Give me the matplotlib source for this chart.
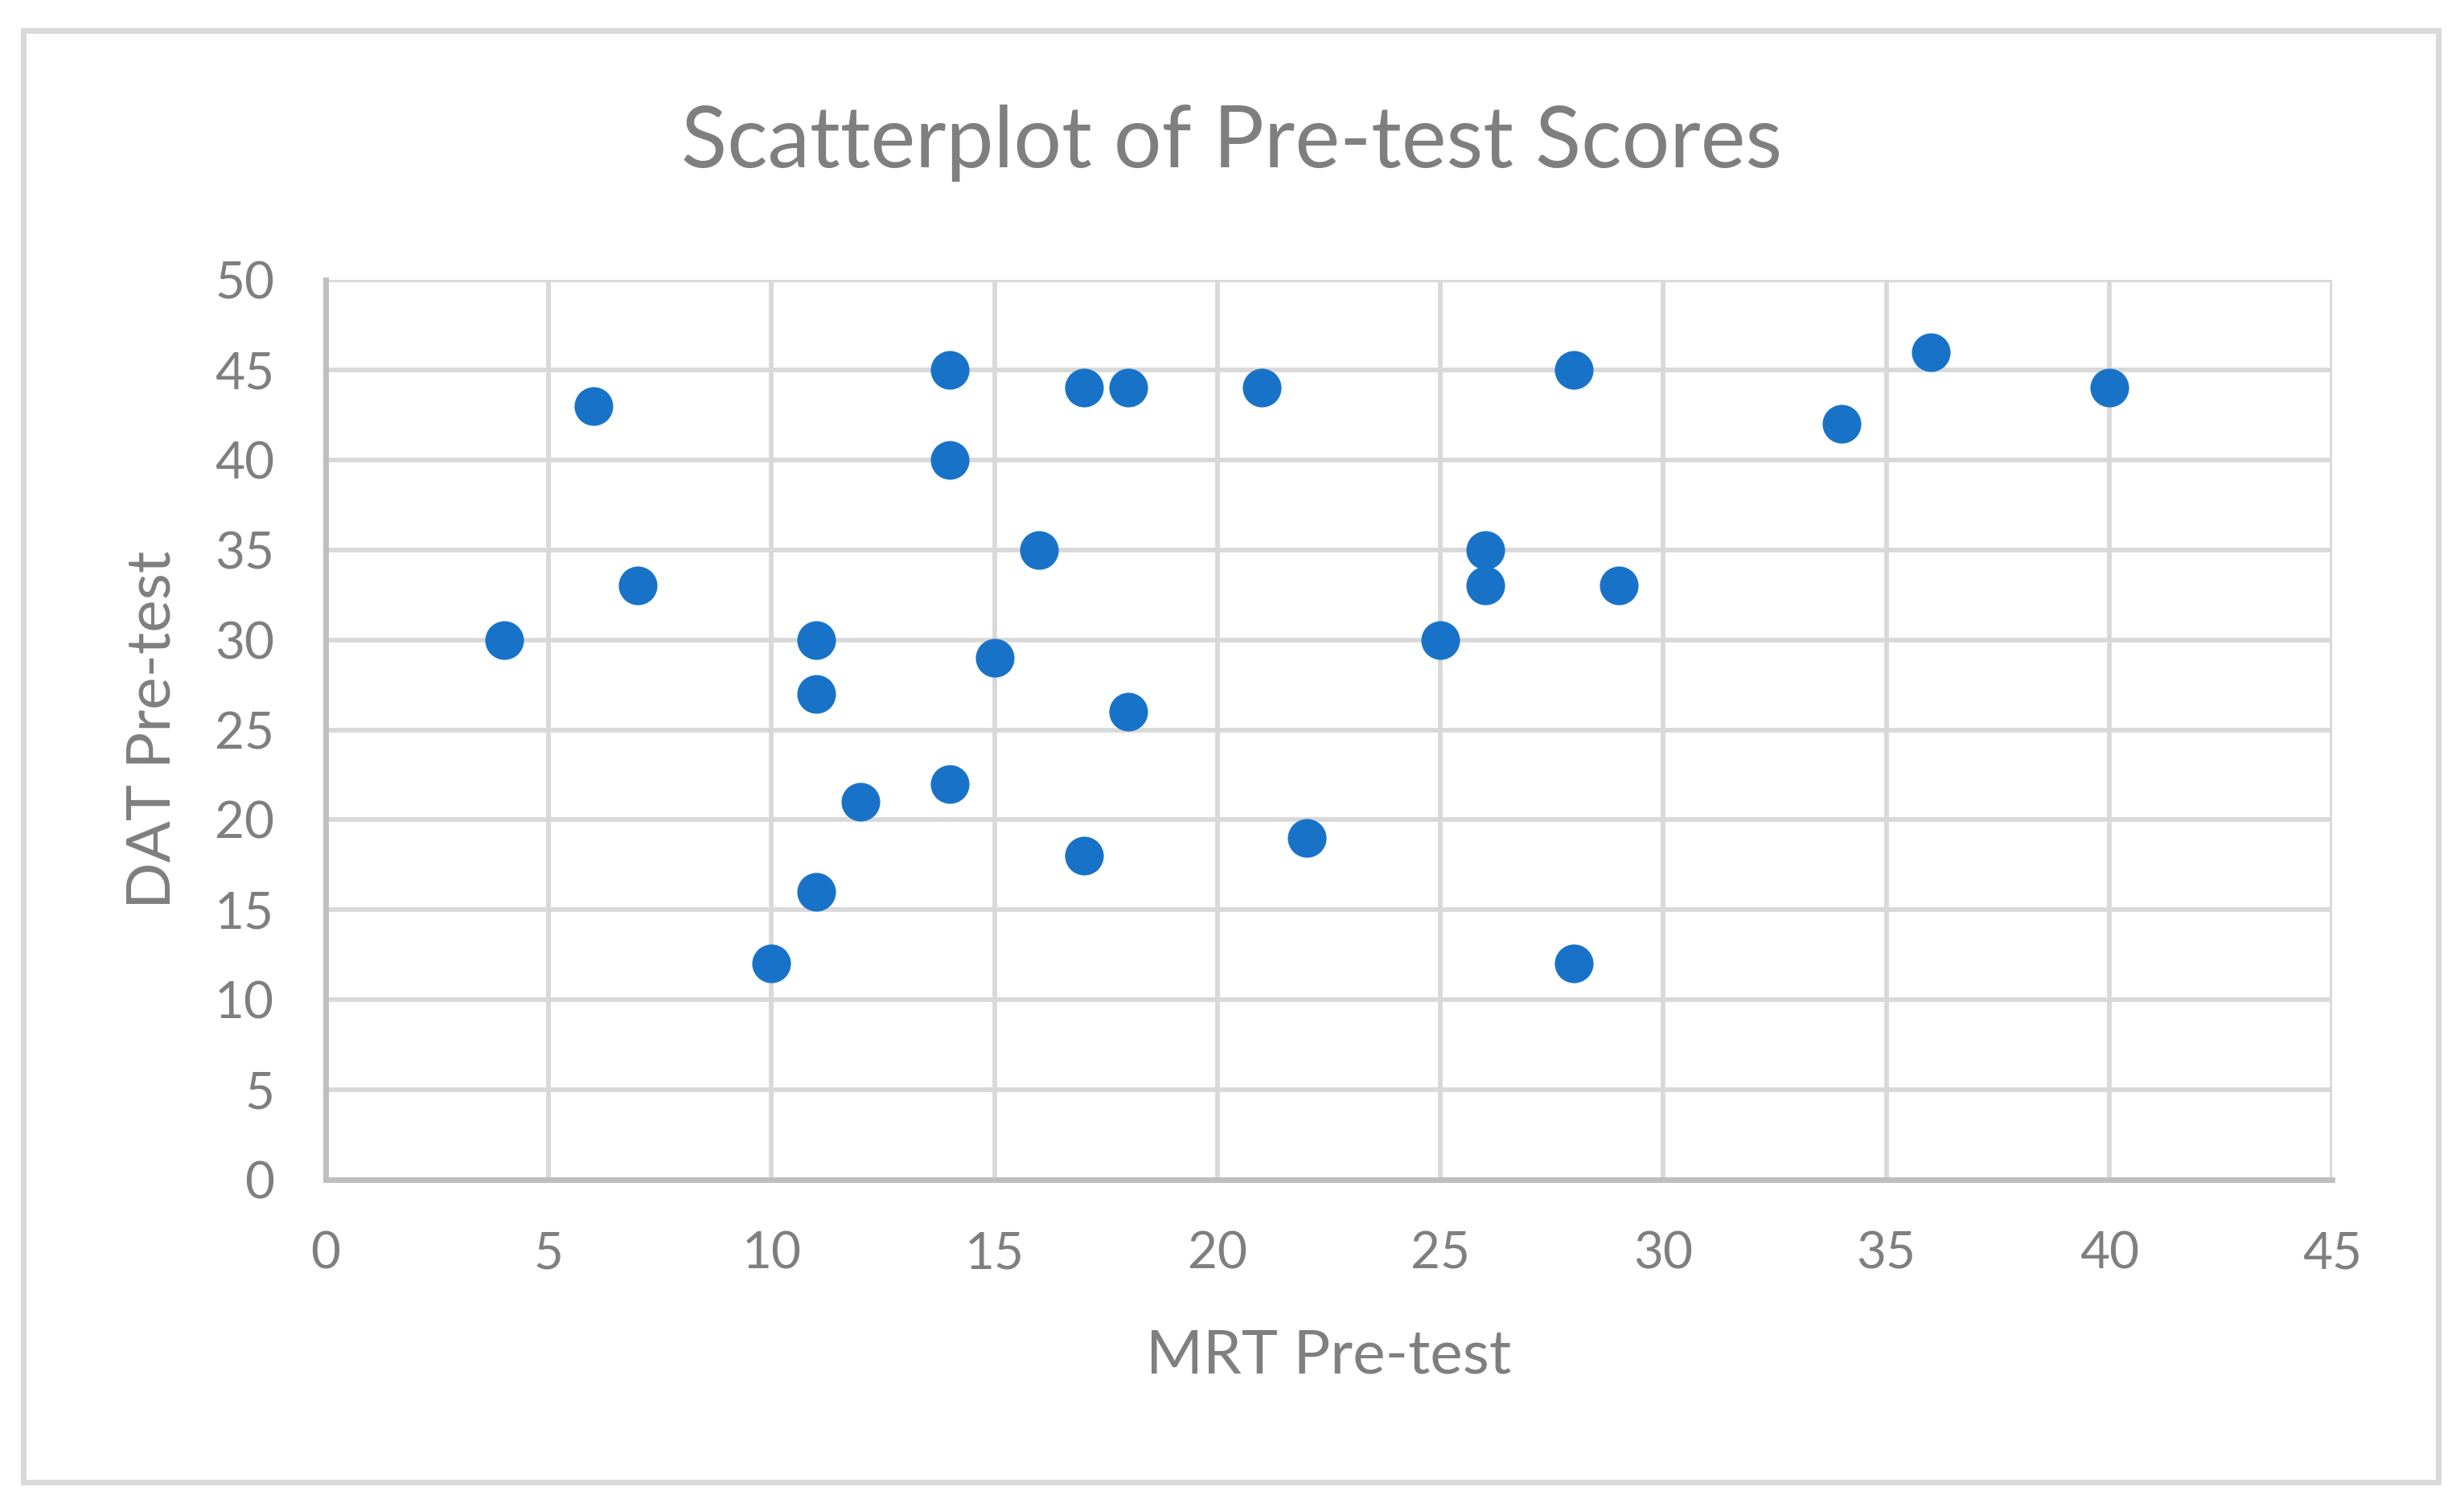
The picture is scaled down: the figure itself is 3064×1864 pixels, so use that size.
import matplotlib
matplotlib.use("Agg")
import matplotlib.pyplot as plt
from matplotlib.patches import Rectangle

# MRT pre-test (x) and DAT pre-test (y) scores
mrt = [4, 6, 7, 10, 11, 11, 11, 12, 14, 14, 14, 15, 16, 17, 17, 18, 18,
       21, 22, 25, 26, 26, 28, 28, 29, 34, 36, 40]
dat = [30, 43, 33, 12, 30, 27, 16, 21, 45, 40, 22, 29, 35, 44, 18, 44, 26,
       44, 19, 30, 35, 33, 45, 12, 33, 42, 46, 44]

x_ticks = list(range(0, 50, 5))
y_ticks = list(range(0, 55, 5))

plt.rcParams['font.family'] = ['Lato', 'DejaVu Sans']
text_color = '#7f7f7f'

fig = plt.figure(figsize=(30.64, 18.64), dpi=100)
fig.patches.append(Rectangle((29 / 3064, 1 - 1843 / 1864), (3032 - 29) / 3064,
                             (1843 - 38) / 1864, transform=fig.transFigure,
                             fill=False, edgecolor='#d9d9d9', linewidth=5))

ax = fig.add_axes([405 / 3064, 1 - 1467 / 1864, (2900 - 405) / 3064, (1467 - 348) / 1864])
ax.scatter(mrt, dat, s=1200, color='#1873c8', zorder=3, linewidths=0)

ax.set_xlim(0, 45)
ax.set_ylim(0, 50)
ax.set_xticks(x_ticks)
ax.set_yticks(y_ticks)
ax.grid(True, color='#d9d9d9', linewidth=4.2)
ax.set_axisbelow(True)
ax.tick_params(length=0, labelsize=46, labelcolor=text_color)
ax.tick_params(axis='x', pad=46)
ax.tick_params(axis='y', pad=46)

for side in ['top', 'right']:
    ax.spines[side].set_visible(False)
for side in ['left', 'bottom']:
    ax.spines[side].set_color('#bfbfbf')
    ax.spines[side].set_linewidth(5)

ax.set_xlabel('MRT Pre-test', fontsize=55, color=text_color)
ax.set_ylabel('DAT Pre-test', fontsize=55, color=text_color)
ax.xaxis.set_label_coords(0.5, -(1686 - 1467) / (1467 - 348))
ax.yaxis.set_label_coords(-(405 - 190) / (2900 - 405), 0.5)
ax.xaxis.label.set_va('center')
ax.yaxis.label.set_va('center')

fig.text(0.5, 1 - 178 / 1864, 'Scatterplot of Pre-test Scores', fontsize=76,
         color=text_color, ha='center', va='center')

fig.savefig('out.png', dpi=100)
